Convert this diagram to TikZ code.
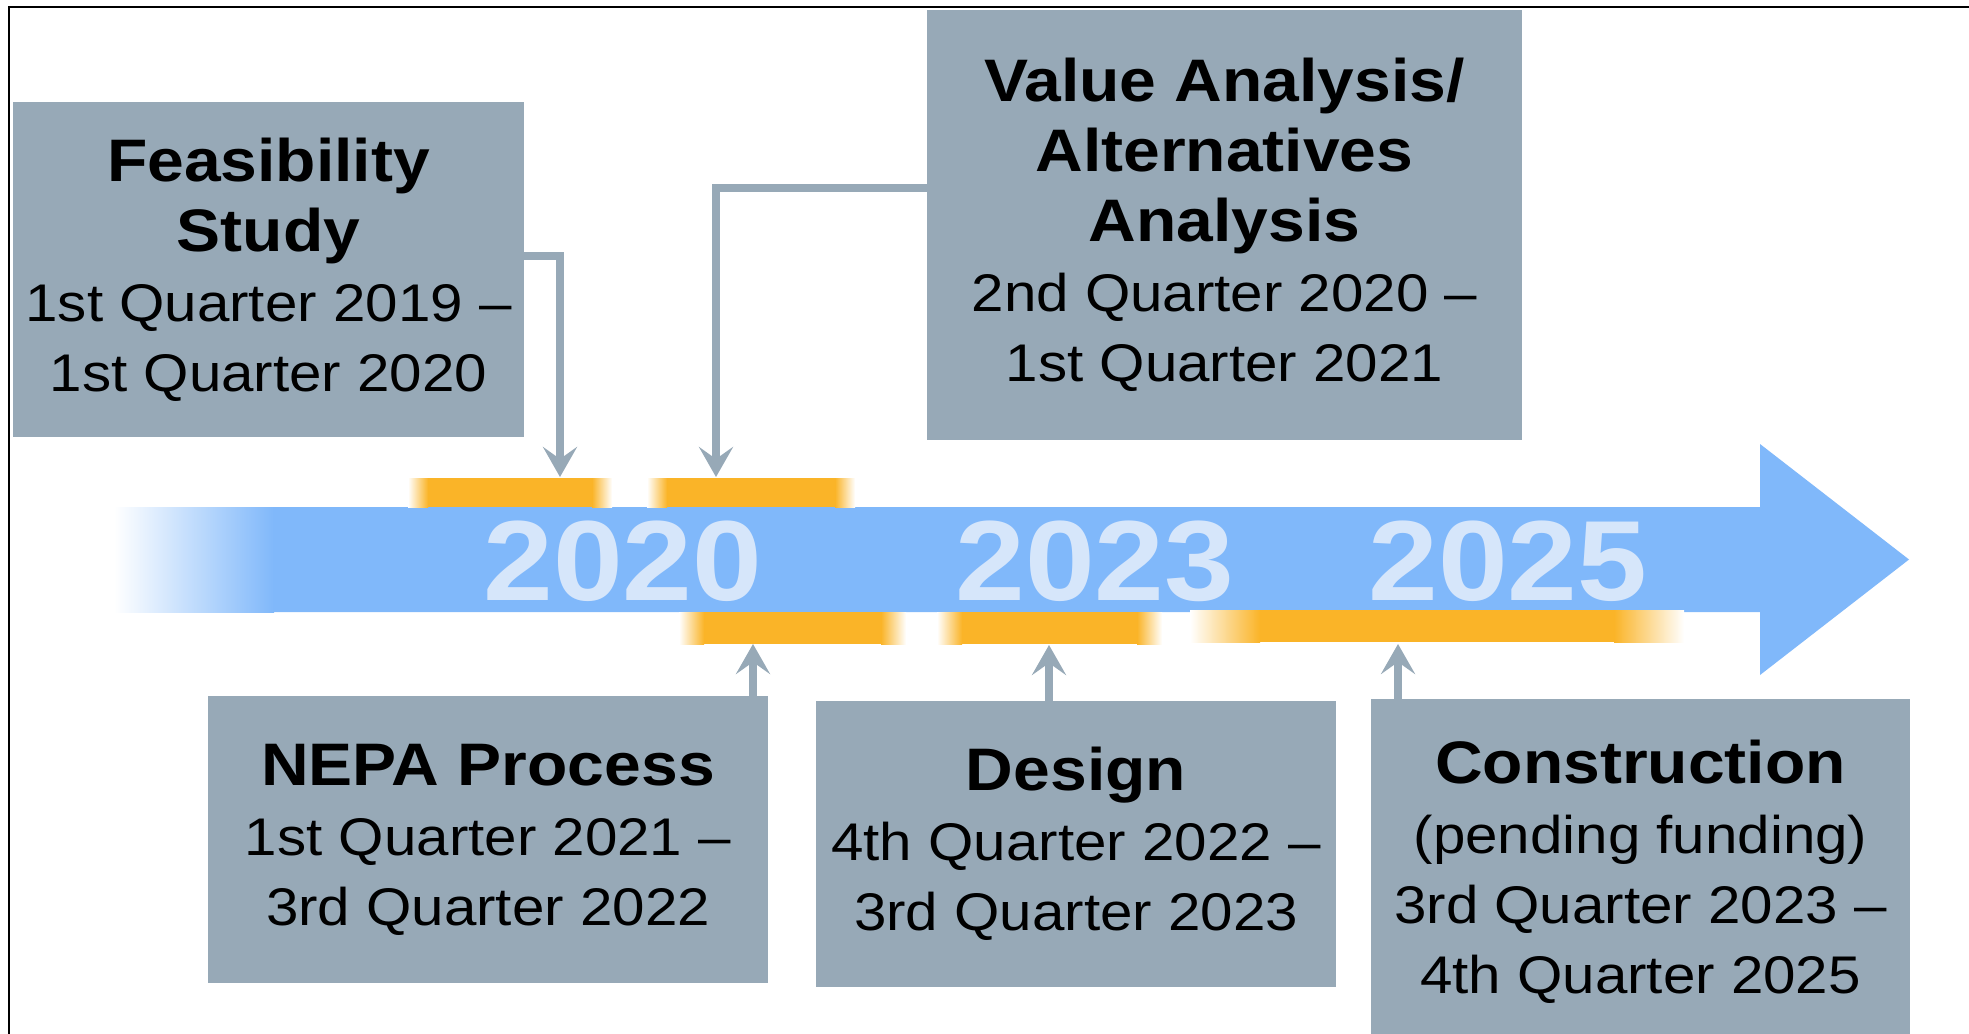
\documentclass[tikz,border=0pt]{standalone}
\usepackage{fontspec}
\setmainfont{Liberation Sans}[FakeStretch=1.1]
\usetikzlibrary{arrows.meta}
\definecolor{boxgray}{HTML}{97A9B7}
\definecolor{bandblue}{HTML}{80B8FA}
\definecolor{yeartxt}{HTML}{D6E6FA}
\definecolor{barorange}{HTML}{FAB428}
\newcommand\fadebar[5]{%
  \fill[left color=white,right color=barorange] (#1,#3) rectangle ({#1+#5},#4);
  \fill[barorange] ({#1+#5-0.5},#3) rectangle ({#2-#5+0.5},#4);
  \fill[left color=barorange,right color=white] ({#2-#5},#3) rectangle (#2,#4);}
\newcommand\ttl[1]{{\fontsize{30pt}{35pt}\selectfont\bfseries #1}}
\begin{document}
\begin{tikzpicture}[x=0.5pt,y=-0.5pt,
  box/.style={fill=boxgray,inner sep=0pt,align=center,font=\fontsize{26.5pt}{35pt}\selectfont},
  year/.style={text=yeartxt,anchor=base,inner sep=0pt,font=\fontsize{57pt}{60pt}\selectfont\bfseries},
  conn/.style={draw=boxgray,line width=4pt,-{Stealth[length=15pt,width=17pt,inset=6pt]}}]
\useasboundingbox[fill=white] (0,0) rectangle (1969,1033);
% frame
\draw[line width=1pt] (9,1040) -- (9,7) -- (1975,7);
% timeline band
\fill[left color=white,right color=bandblue] (114,507) rectangle (274,612);
\fill[bandblue] (273,507) -- (1760,507) -- (1760,444) -- (1909,559.5) -- (1760,675) -- (1760,612) -- (273,612) -- cycle;
% orange bars
\fadebar{408}{612}{478}{507}{20}
\fadebar{647}{855}{478}{507}{20}
\fadebar{679}{906}{612}{644}{25}
\fadebar{937}{1162}{612}{644}{25}
\fadebar{1190}{1684}{610}{642}{70}
% years
\node[year] (y2020) at (623,600) {2020};
\node[year] (y2023) at (1095,600) {2023};
\node[year] (y2025) at (1508,600) {2025};
% boxes
\node[box,minimum width=255.5pt,minimum height=167.5pt] (feas) at (268.5,269.5)
  {\ttl{Feasibility}\\\ttl{Study}\\1st Quarter 2019 –\\1st Quarter 2020};
\node[box,minimum width=297.5pt,minimum height=215pt] (value) at (1224.5,225)
  {\ttl{Value Analysis/}\\\ttl{Alternatives}\\\ttl{Analysis}\\2nd Quarter 2020 –\\1st Quarter 2021};
\node[box,minimum width=280pt,minimum height=143.5pt] (nepa) at (488,839.5)
  {\ttl{NEPA Process}\\1st Quarter 2021 –\\3rd Quarter 2022};
\node[box,minimum width=260pt,minimum height=143pt] (design) at (1076,844)
  {\ttl{Design}\\4th Quarter 2022 –\\3rd Quarter 2023};
\node[box,minimum width=269.5pt,minimum height=173pt] (constr) at (1640.5,872)
  {\ttl{Construction}\\(pending funding)\\3rd Quarter 2023 –\\4th Quarter 2025};
% connector tips
\coordinate (ftip) at (560,477);
\coordinate (vtip) at (716,477);
\coordinate (ntip) at (753,644);
\coordinate (dtip) at (1049,645);
\coordinate (ctip) at (1398,644);
% connectors
\draw[conn] ([yshift=7pt]feas.east) -| (ftip);
\draw[conn] ([yshift=18.5pt]value.west) -| (vtip);
\draw[conn] (ntip |- nepa.north) -- (ntip);
\draw[conn] (dtip |- design.north) -- (dtip);
\draw[conn] (ctip |- constr.north) -- (ctip);
\end{tikzpicture}
\end{document}
